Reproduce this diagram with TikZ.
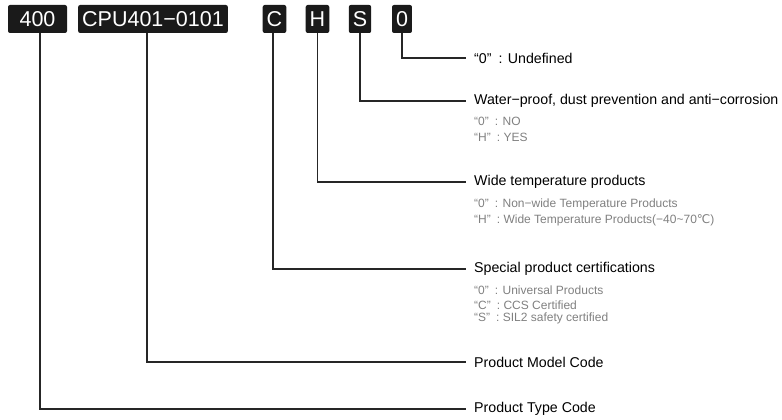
\documentclass[tikz,border=0pt]{standalone}
\usepackage{fontspec}
\setmainfont{Liberation Sans}
\newfontfamily\symfont{DejaVu Sans}
\usetikzlibrary{positioning}
\definecolor{boxblack}{HTML}{1A1A1A}
\definecolor{subgray}{HTML}{808080}

\begin{document}
\begin{tikzpicture}[x=1pt,y=-1pt,
  codebox/.style={fill=boxblack,text=white,rounded corners=2pt,minimum height=28pt,
    inner xsep=4pt,inner ysep=0pt,font=\fontsize{21.5}{21.5}\selectfont},
  lbl/.style={anchor=west,inner xsep=8pt,inner ysep=0pt,font=\fontsize{14.2}{16}\selectfont},
  sub/.style={anchor=west,inner sep=0pt,text=subgray,font=\fontsize{12}{14}\selectfont},
  lead/.style={line width=1.1pt,black!85}]
  \useasboundingbox (0,0) rectangle (782,420);
  % code boxes along the top
  \node[codebox,minimum width=59pt] (b400) at (37.5,19) {400};
  \node[codebox] (bcpu) at (153,19) {CPU401−0101};
  \node[codebox] (bc) at (274.5,19) {C};
  \node[codebox] (bh) at (317.5,19) {H};
  \node[codebox] (bs) at (360,19) {S};
  \node[codebox] (b0) at (402,19) {0};
  % labels on the right
  \node[lbl] (l0) at (466,58) {“0”\enspace: Undefined};
  \node[lbl] (ls) at (466,101) {Water−proof, dust prevention and anti−corrosion};
  \node[sub] (ls1) at (474,121) {“0”\enspace: NO};
  \node[sub] (ls2) at (474,137.5) {“H”\enspace: YES};
  \node[lbl] (lh) at (466,182) {Wide temperature products};
  \node[sub] (lh1) at (474,204) {“0”\enspace: Non−wide Temperature Products};
  \node[sub] (lh2) at (474,220) {“H”\enspace: Wide Temperature Products(−40\textasciitilde70{\symfont ℃})};
  \node[lbl] (lc) at (466,269) {Special product certifications};
  \node[sub] (lc1) at (474,290) {“0”\enspace: Universal Products};
  \node[sub] (lc2) at (474,305) {“C”\enspace: CCS Certified};
  \node[sub] (lc3) at (474,318) {“S”\enspace: SIL2 safety certified};
  \node[lbl] (lcpu) at (466,362) {Product Model Code};
  \node[lbl] (l400) at (466,409) {Product Type Code};
  \draw[lead] (b0.south) |- (l0.west);
  \draw[lead] (bs.south) |- (ls.west);
  \draw[lead] (bh.south) |- (lh.west);
  \draw[lead] ([xshift=-1.5pt]bc.south) |- (lc.west);
  \draw[lead] ([xshift=-6pt]bcpu.south) |- (lcpu.west);
  \draw[lead] ([xshift=2.5pt]b400.south) |- (l400.west);
\end{tikzpicture}
\end{document}
